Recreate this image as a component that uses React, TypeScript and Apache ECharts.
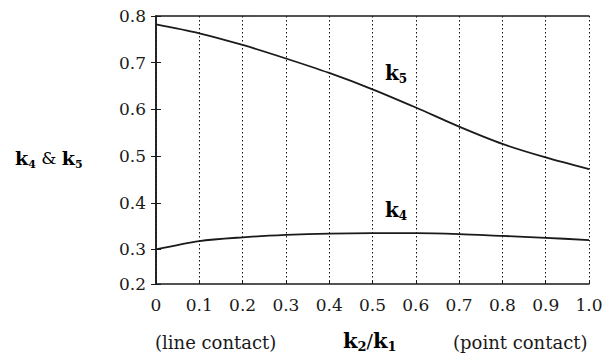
import React, { useEffect, useRef } from "react";
import * as echarts from "echarts";

// k2/k1 ratio (x) values
const ratio = [0, 0.1, 0.2, 0.3, 0.4, 0.5, 0.6, 0.7, 0.8, 0.9, 1.0];
// k4 values
const k4 = [0.300, 0.318, 0.326, 0.331, 0.334, 0.335, 0.335, 0.333, 0.329, 0.325, 0.320];
// k5 values
const k5 = [0.782, 0.763, 0.738, 0.709, 0.678, 0.643, 0.604, 0.563, 0.526, 0.497, 0.472];

const xMin = 0;
const xMax = 1;
const xStep = 0.1;
const yMin = 0.226; // visible bottom of the frame (just above 0.2)
const yMax = 0.8;
const yBottomLabel = "0.2";

const FONT = "DejaVu Serif";
const INK = "#1a1a1a";

const kRich = (size: number, sub: number) => ({
  k: { fontFamily: FONT, fontWeight: "bold", fontSize: size, lineHeight: 24, color: INK, verticalAlign: "middle" },
  s: { fontFamily: FONT, fontWeight: "bold", fontSize: sub, lineHeight: 12, color: INK, verticalAlign: "bottom" },
  n: { fontFamily: FONT, fontSize: size - 2, lineHeight: 24, color: INK, verticalAlign: "middle" },
});

export default function App() {
  const ref = useRef<HTMLDivElement>(null);
  useEffect(() => {
    const chart = echarts.init(ref.current!, null, { renderer: "svg" });
    const pairs = (ys: number[]) => ratio.map((x, i) => [x, ys[i]]);
    chart.setOption({
      animation: false,
      backgroundColor: "#ffffff",
      grid: { left: 156, right: 17, top: 16, bottom: 76 },
      xAxis: [
        {
          type: "value",
          min: xMin,
          max: xMax,
          interval: xStep,
          position: "bottom",
          axisLine: { show: true, lineStyle: { color: INK, width: 1.5 } },
          axisTick: { show: true, inside: true, length: 4, lineStyle: { color: INK } },
          axisLabel: {
            margin: 12,
            fontFamily: FONT,
            fontSize: 17,
            color: INK,
            formatter: (v: number) => (v === 0 ? "0" : v.toFixed(1)),
          },
          splitLine: {
            show: true,
            lineStyle: { color: "#111", type: [1.5, 2.5], width: 1 },
          },
        },
        {
          type: "value",
          min: xMin,
          max: xMax,
          interval: xStep,
          position: "top",
          axisLine: { show: true, lineStyle: { color: INK, width: 1.5 } },
          axisTick: { show: false },
          axisLabel: { show: false },
          splitLine: { show: false },
        },
      ],
      yAxis: [
        {
          type: "value",
          min: yMin,
          max: yMax,
          position: "left",
          axisLine: { show: true, lineStyle: { color: INK, width: 1.5 } },
          axisTick: { show: true, inside: true, length: 5, lineStyle: { color: INK } },
          axisLabel: {
            margin: 10,
            fontFamily: FONT,
            fontSize: 17,
            color: INK,
            formatter: (v: number) => (v < 0.25 ? yBottomLabel : v.toFixed(1)),
          },
          splitLine: { show: false },
        },
        {
          type: "value",
          min: yMin,
          max: yMax,
          position: "right",
          axisLine: { show: true, lineStyle: { color: INK, width: 1.5 } },
          axisTick: { show: true, inside: true, length: 5, lineStyle: { color: INK } },
          axisLabel: { show: false },
          splitLine: { show: false },
        },
      ],
      series: [
        {
          name: "k5",
          type: "line",
          data: pairs(k5),
          smooth: 0.3,
          showSymbol: false,
          lineStyle: { color: INK, width: 1.8 },
        },
        {
          name: "k4",
          type: "line",
          data: pairs(k4),
          smooth: 0.3,
          showSymbol: false,
          lineStyle: { color: INK, width: 1.8 },
        },
      ],
      graphic: [
        {
          type: "text",
          left: 15,
          top: 148,
          style: {
            text: "{k|k}{s|4}{n| & }{k|k}{s|5}",
            rich: kRich(19, 11),
          },
        },
        {
          type: "text",
          left: 385,
          top: 63,
          style: { text: "{k|k}{s|5}", rich: kRich(20, 12) },
        },
        {
          type: "text",
          left: 385,
          top: 200,
          style: { text: "{k|k}{s|4}", rich: kRich(20, 12) },
        },
        {
          type: "text",
          left: 155,
          top: 333,
          style: { text: "(line contact)", fontFamily: FONT, fontSize: 18, fill: INK },
        },
        {
          type: "text",
          left: 453,
          top: 333,
          style: { text: "(point contact)", fontFamily: FONT, fontSize: 18, fill: INK },
        },
        {
          type: "text",
          left: 343,
          top: 330,
          style: {
            text: "{k|k}{s|2}{n|/}{k|k}{s|1}",
            rich: kRich(21, 13),
          },
        },
      ],
    });
    return () => chart.dispose();
  }, []);
  return (
    <div
      ref={ref}
      style={{ position: "fixed", left: 0, top: 0, width: 606, height: 360 }}
    />
  );
}
